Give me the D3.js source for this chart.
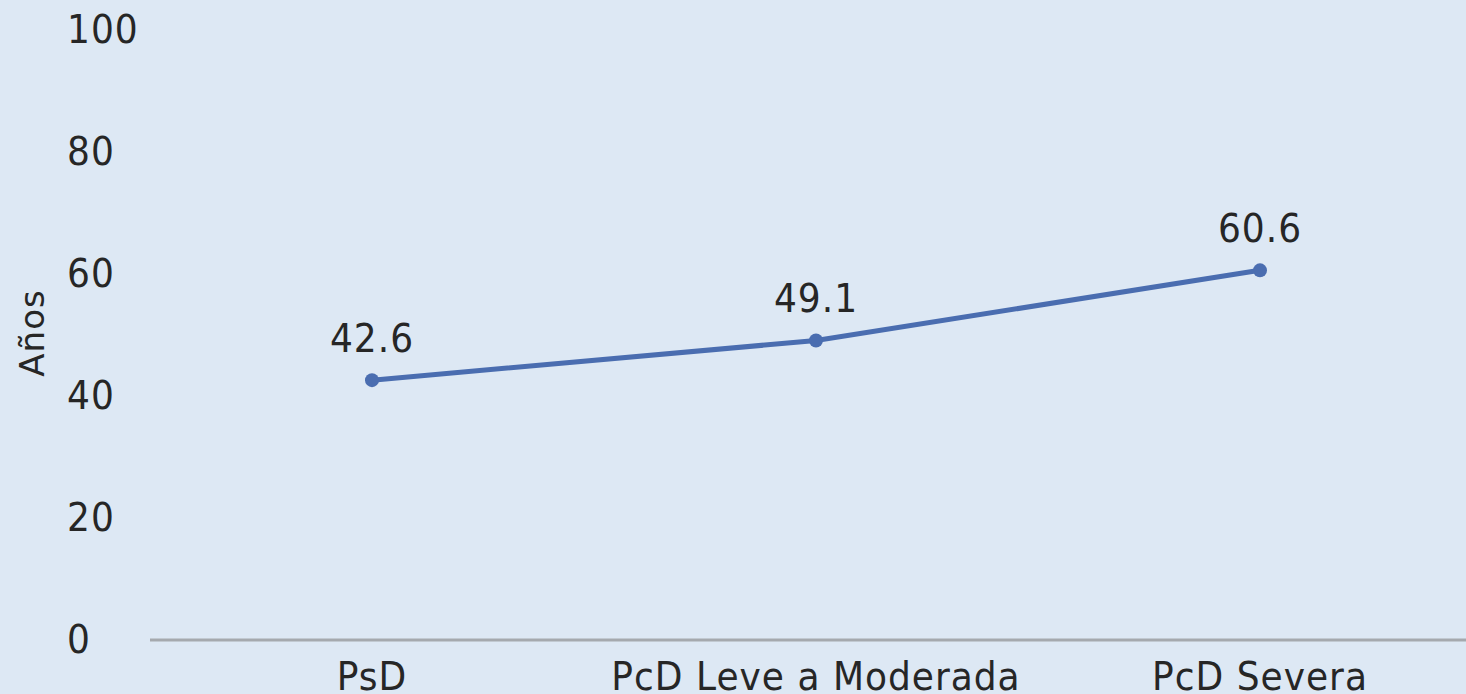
<!DOCTYPE html>
<html lang="es">
<head>
  <meta charset="UTF-8">
  <title>Edad promedio</title>
  <script src="https://cdnjs.cloudflare.com/ajax/libs/d3/7.8.5/d3.min.js"></script>
  <style>
    html, body { margin: 0; padding: 0; background: #dde8f4; overflow: hidden; }
    svg { display: block; font-family: "DejaVu Sans", Verdana, sans-serif; }
  </style>
</head>
<body>
  <svg id="chart" width="1466" height="694"></svg>
  <script>
    const categories = ["PsD", "PcD Leve a Moderada", "PcD Severa"];
    const values = [42.6, 49.1, 60.6];
    const yTicks = [0, 20, 40, 60, 80, 100];
    const yTitle = "Años";

    const svg = d3.select("#chart");
    const W = 1466, H = 694;
    const FS = 36, SY = 1.07, TXT = "#262626";

    svg.append("rect").attr("width", W).attr("height", H).attr("fill", "#dde8f4");

    const x = d3.scaleBand().domain(categories).range([150, 1482]);
    const y = d3.scaleLinear().domain([0, 100]).range([640, 30]);
    const cx = c => x(c) + x.bandwidth() / 2;

    // texto un poco estirado en vertical como en el original
    function label(g, tx, ty, str, anchor) {
      g.append("g")
        .attr("transform", `translate(${tx},${ty}) scale(1,${SY})`)
        .append("text")
        .attr("text-anchor", anchor)
        .attr("font-size", FS)
        .attr("letter-spacing", 1)
        .attr("fill", TXT)
        .text(str);
    }

    // eje y: solo etiquetas
    yTicks.forEach(d => label(svg, 67, y(d) + 13, d, "start"));

    svg.append("text")
      .attr("transform", "translate(44,333) rotate(-90)")
      .attr("text-anchor", "middle")
      .attr("font-size", 34)
      .attr("letter-spacing", 1)
      .attr("fill", TXT)
      .text(yTitle);

    // eje x
    svg.append("line")
      .attr("x1", 150).attr("x2", W)
      .attr("y1", y(0)).attr("y2", y(0))
      .attr("stroke", "#a5a9ae")
      .attr("stroke-width", 3);

    categories.forEach(c => label(svg, cx(c), 690, c, "middle"));

    const pts = categories.map((c, i) => ({ c, v: values[i] }));

    const line = d3.line()
      .x(d => cx(d.c))
      .y(d => y(d.v));

    svg.append("path")
      .datum(pts)
      .attr("fill", "none")
      .attr("stroke", "#4a6db0")
      .attr("stroke-width", 5)
      .attr("d", line);

    svg.selectAll(".pt")
      .data(pts)
      .enter()
      .append("circle")
      .attr("cx", d => cx(d.c))
      .attr("cy", d => y(d.v))
      .attr("r", 7)
      .attr("fill", "#4a6db0");

    pts.forEach(d => label(svg, cx(d.c), y(d.v) - 28, d.v.toFixed(1), "middle"));
  </script>
</body>
</html>
